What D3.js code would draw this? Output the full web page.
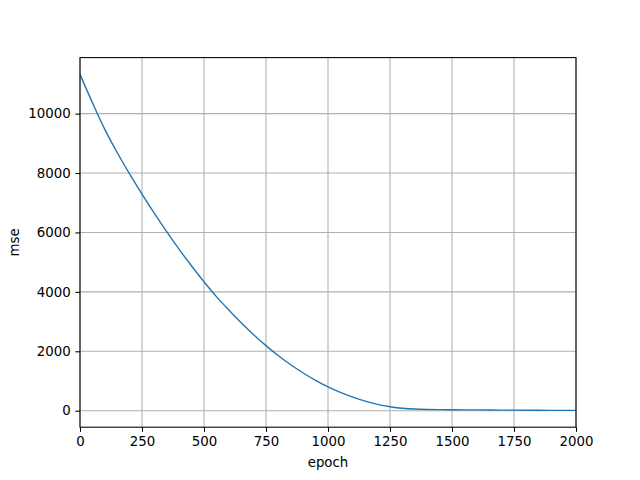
<!DOCTYPE html>
<html>
<head>
<meta charset="utf-8">
<script src="https://cdn.jsdelivr.net/npm/d3@7"></script>
<style>
  body { margin: 0; background: #fff; }
  text { font-family: "DejaVu Sans", sans-serif; }
</style>
</head>
<body>
<svg id="chart" width="640" height="480"></svg>
<script>
// mse per epoch
var epochs = [0, 50, 100, 150, 200, 250, 300, 350, 400, 450, 500, 550, 600, 650, 700,
              750, 800, 850, 900, 950, 1000, 1050, 1100, 1150, 1200, 1250, 1300, 1350,
              1400, 1450, 1500, 1600, 1700, 1800, 1900, 2000]
var mse = [11320, 10370, 9470, 8690, 7970, 7290, 6640, 6020, 5430, 4870, 4340, 3840, 3390, 2960, 2560,
           2190, 1850, 1545, 1270, 1020, 800, 615, 455, 320, 213, 135, 81, 55,
           42, 36, 32, 26, 20, 16, 12, 10]
var xTicks = [0, 250, 500, 750, 1000, 1250, 1500, 1750, 2000]
var yTicks = [0, 2000, 4000, 6000, 8000, 10000]

var svg = d3.select('#chart')
var plotLeft = 80, plotRight = 576, plotTop = 57.6, plotBottom = 427.2

var lo = d3.min(mse), hi = d3.max(mse)
var pad = (hi - lo) * 0.05

var x = d3.scaleLinear().domain([0, 2000]).range([plotLeft, plotRight])
var y = d3.scaleLinear().domain([lo - pad, hi + pad]).range([plotBottom, plotTop])

// grid
svg.append('g').selectAll('line')
    .data(xTicks)
    .enter()
    .append('line')
    .attr('x1', function(d) { return x(d) })
    .attr('x2', function(d) { return x(d) })
    .attr('y1', plotTop)
    .attr('y2', plotBottom)
    .attr('stroke', '#b0b0b0')
    .attr('stroke-width', 1.07)

svg.append('g').selectAll('line')
    .data(yTicks)
    .enter()
    .append('line')
    .attr('x1', plotLeft)
    .attr('x2', plotRight)
    .attr('y1', function(d) { return y(d) })
    .attr('y2', function(d) { return y(d) })
    .attr('stroke', '#b0b0b0')
    .attr('stroke-width', 1.07)

// curve
var line = d3.line()
    .x(function(d, i) { return x(epochs[i]) })
    .y(function(d) { return y(d) })
    .curve(d3.curveMonotoneX)

svg.append('path')
    .datum(mse)
    .attr('d', line)
    .attr('fill', 'none')
    .attr('stroke', '#1f77b4')
    .attr('stroke-width', 1.4)

// axes
var xAxis = d3.axisBottom(x).tickValues(xTicks).tickSize(4.67).tickPadding(4.67).tickFormat(d3.format('d'))
var yAxis = d3.axisLeft(y).tickValues(yTicks).tickSize(4.67).tickPadding(4.67).tickFormat(d3.format('d'))

var gx = svg.append('g').attr('transform', 'translate(0,' + plotBottom + ')').call(xAxis)
var gy = svg.append('g').attr('transform', 'translate(' + plotLeft + ',0)').call(yAxis)

;[gx, gy].forEach(function(g) {
    g.select('.domain').remove()
    g.selectAll('.tick line').attr('stroke', '#000').attr('stroke-width', 1.07)
    g.selectAll('.tick text')
        .attr('fill', '#000')
        .style('font-size', '13.33px')
        .style('font-family', '"DejaVu Sans", sans-serif')
})

// frame
svg.append('rect')
    .attr('x', plotLeft)
    .attr('y', plotTop)
    .attr('width', plotRight - plotLeft)
    .attr('height', plotBottom - plotTop)
    .attr('fill', 'none')
    .attr('stroke', '#000')
    .attr('stroke-width', 1.07)

// labels
svg.append('text')
    .attr('x', (plotLeft + plotRight) / 2)
    .attr('y', 467)
    .attr('text-anchor', 'middle')
    .style('font-size', '13.33px')
    .text('epoch')

svg.append('text')
    .attr('transform', 'translate(19,' + ((plotTop + plotBottom) / 2) + ') rotate(-90)')
    .attr('text-anchor', 'middle')
    .style('font-size', '13.33px')
    .text('mse')
</script>
</body>
</html>
